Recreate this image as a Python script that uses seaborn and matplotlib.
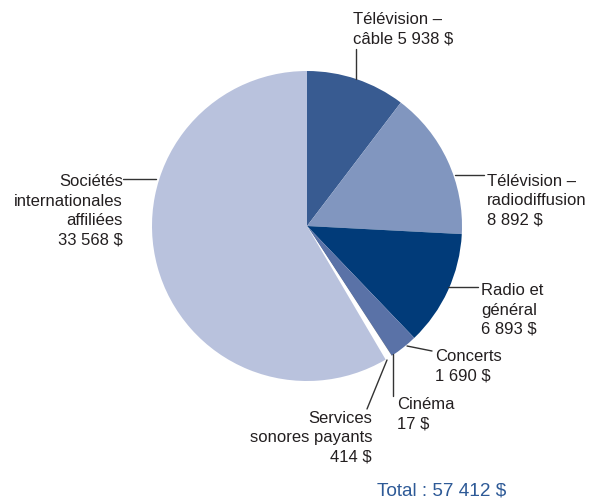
import matplotlib
matplotlib.use("Agg")
import matplotlib.pyplot as plt
from matplotlib.lines import Line2D
import seaborn as sns

# Revenue by category (dollars), clockwise from the top
categories = [
    "Télévision –\ncâble",
    "Télévision –\nradiodiffusion",
    "Radio et\ngénéral",
    "Concerts",
    "Cinéma",
    "Services\nsonores payants",
    "Sociétés\ninternationales\naffiliées",
]
values = [5938, 8892, 6893, 1690, 17, 414, 33568]
value_labels = ["5 938 $", "8 892 $", "6 893 $", "1 690 $", "17 $", "414 $", "33 568 $"]
total_label = "Total : 57 412 $"

colors = ["#385B91", "#8196BF", "#013B79", "#5A72A7", "#3A3A3A", "#FFFFFF", "#B9C2DD"]

sns.set_theme(style="white")
plt.rcParams["font.family"] = ["Liberation Sans", "DejaVu Sans"]

W, H = 590, 502
fig = plt.figure(figsize=(W / 100, H / 100), dpi=100)
fig.patch.set_facecolor("white")


def fx(x):
    return x / W


def fy(y):
    return 1 - y / H


# pie area in pixels: centre (307, 227), radius 155
cx, cy, r = 307, 227, 155
ax = fig.add_axes([fx(cx - r), fy(cy + r), 2 * r / W, 2 * r / H])
ax.pie(values, colors=colors, startangle=90, counterclock=False,
       wedgeprops=dict(linewidth=0), radius=1)
ax.set_xlim(-1, 1)
ax.set_ylim(-1, 1)
ax.set_aspect("equal")
ax.axis("off")

text_color = "#231F20"
line_color = "#333333"

# label layout: (x, y, horizontal alignment, line segment)
layout = [
    (353, 29, "left", [(356, 50), (356, 80)]),
    (487, 201, "left", [(455, 176), (484, 176)]),
    (481, 310, "left", [(448, 288), (478, 288)]),
    (435, 366, "left", [(407, 347), (432, 352)]),
    (397, 414, "left", [(393, 355), (393, 397)]),
    (372, 438, "right", [(387, 361), (367, 410)]),
    (123, 211, "right", [(123, 180), (156, 180)]),
]

for i, (name, val) in enumerate(zip(categories, value_labels)):
    x, y, ha, seg = layout[i]
    if i == 0:
        txt = name + " " + val
    else:
        txt = name + "\n" + val
    fig.text(fx(x), fy(y), txt, ha=ha, va="center", fontsize=12,
             color=text_color, linespacing=1.37, multialignment=ha)
    (x0, y0), (x1, y1) = seg
    fig.add_artist(Line2D([fx(x0), fx(x1)], [fy(y0), fy(y1)],
                          color=line_color, linewidth=1.0))

fig.text(fx(377), fy(491), total_label, ha="left", va="center",
         fontsize=13.7, color="#2E5A97")

fig.savefig("out.png", dpi=100)
